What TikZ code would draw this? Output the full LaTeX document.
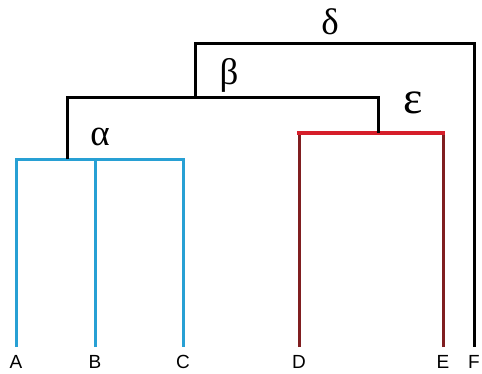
\documentclass[tikz,border=0pt]{standalone}
\usepackage{fontspec}
\setmainfont{Liberation Sans}
\newfontfamily\greekfont{Liberation Serif}
\usepackage{tikz}
\usetikzlibrary{positioning}
\definecolor{cladeblue}{RGB}{40,160,212}
\definecolor{cladered}{RGB}{214,30,42}
\definecolor{cladedark}{RGB}{128,30,32}

\begin{document}
\begin{tikzpicture}[x=1pt, y=-1pt, line width=3pt, line join=miter,
  leaf/.style={inner sep=0pt, font=\fontsize{19}{19}\selectfont},
  greek/.style={inner sep=0pt, font=\greekfont\fontsize{37}{37}\selectfont},
  blueline/.style={draw=cladeblue},
  redbar/.style={draw=cladered, line width=4pt, line cap=rect},
  darkline/.style={draw=cladedark},
  trunk/.style={draw=black}]
\useasboundingbox (0,0) rectangle (482,373);
% leaf tips along the bottom
\coordinate (a) at (16,347);
\coordinate (b) at (95,347);
\coordinate (c) at (183,347);
\coordinate (d) at (299,347);
\coordinate (e) at (443,347);
\coordinate (f) at (474,347);
\foreach \t/\l in {a/A,b/B,c/C,d/D,e/E,f/F}
  \node[leaf, below=7pt of \t] (\l) {\l};
% junctions
\coordinate (alpha) at (67,159);
\coordinate (eps) at (378,133);
\coordinate (beta) at (195,97);
\coordinate (delta) at (328,43);
% alpha clade
\draw[blueline] (a) -- (a|-alpha) -- (c|-alpha) -- (c);
\draw[blueline] (b) -- (b|-alpha);
% epsilon clade
\draw[darkline] (d) -- (d|-eps);
\draw[darkline] (e) -- (e|-eps);
\draw[redbar] (d|-eps) -- (e|-eps);
% upper joins
\draw[trunk] (alpha) -- (alpha|-beta) -- (eps|-beta) -- (eps);
\draw[trunk] (beta) -- (beta|-delta) -- (f|-delta) -- (f);
% labels
\node[greek] (la) at (100,137) {α};
\node[greek] (lb) at (229,75) {β};
\node[greek] (ld) at (330,22) {δ};
\node[greek, font=\greekfont\fontsize{46}{46}\selectfont] (le) at (413,103) {ε};
\end{tikzpicture}
\end{document}
